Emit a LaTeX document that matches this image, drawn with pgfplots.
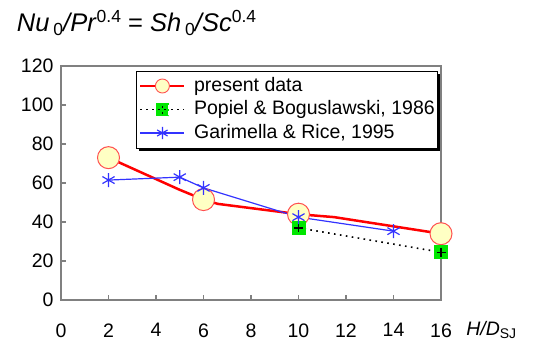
\documentclass[border=0pt]{standalone}
\usepackage{fontspec}
\setmainfont{Liberation Sans}
\usepackage{pgfplots}
\pgfplotsset{compat=1.18}
\definecolor{framegray}{RGB}{128,128,128}
\definecolor{myred}{RGB}{255,0,0}
\definecolor{circedge}{RGB}{255,80,80}
\definecolor{circfill}{RGB}{255,255,196}
\definecolor{mygreen}{RGB}{0,230,0}
\definecolor{myblue}{RGB}{51,51,255}
\newcommand{\smallnum}[1]{{\fontsize{17.5bp}{20bp}\selectfont #1}}
\begin{document}
\begin{tikzpicture}
\useasboundingbox (-61bp,-42bp) rectangle (476bp,300bp);
\begin{axis}[
  scale only axis, width=380bp, height=234bp,
  xmin=0, xmax=16, ymin=0, ymax=120,
  xtick={0,2,...,16}, ytick={0,20,...,120},
  axis line style={framegray, line width=1.4bp},
  tick style={framegray, line width=1.2bp},
  major tick length=5bp,
  tick align=inside,
  xtick pos=bottom, ytick pos=left,
  clip=false,
  /pgf/number format/assume math mode=true,
  tick label style={font=\fontsize{19.5bp}{22bp}\selectfont, text=black},
  xticklabel style={yshift=-20bp},
  yticklabel style={xshift=-4bp},
  title={\textit{Nu}\hspace{4bp}\raisebox{-4.5bp}{\smallnum{0}}\textit{/Pr}\raisebox{9bp}{\smallnum{0.4}} = \textit{Sh}\hspace{4bp}\raisebox{-4.5bp}{\smallnum{0}}\textit{/Sc}\raisebox{9bp}{\smallnum{0.4}}},
  title style={at={(axis description cs:-0.1166,1.1226)}, anchor=base west, font=\fontsize{25.5bp}{28bp}\selectfont, inner sep=0pt},
  xlabel={\textit{H/D}\raisebox{-3bp}{\fontsize{14bp}{16bp}\selectfont SJ}},
  xlabel style={at={(axis description cs:1.066,-0.1538)}, anchor=base west, font=\fontsize{19.5bp}{22bp}\selectfont, inner sep=0pt},
  legend style={at={(axis description cs:0.19737,0.81410)}, anchor=west,
    draw=none, fill=none,
    font=\fontsize{19.5bp}{22bp}\selectfont,
    inner xsep=3bp, inner ysep=0bp, row sep=3.4bp, column sep=7bp,
    nodes={inner sep=1.5bp, text height=13.6bp, text depth=3.5bp}},
  legend cell align=left,
]
\addplot[myred, line width=2.5bp, forget plot] coordinates {
  (2,73) (5,56.5) (6,51.5) (6.6,49.3) (10,44) (11.5,42.5) (16,34)
};
\addlegendimage{legend image code/.code={
  \draw[myred, line width=2.4bp] (0bp,0bp) -- (44bp,0bp);
  \draw[circedge, fill=circfill, line width=0.9bp] (22bp,0bp) circle (7bp);
}}
\addlegendentry{present data}
\addplot[only marks, mark=*, mark size=11bp, mark options={draw=circedge, fill=circfill, line width=1bp}, forget plot] coordinates {
  (2,73) (6,51.5) (10,44) (16,34)
};
\addplot[black, line width=1.6bp, dash pattern=on 1.6bp off 4.4bp, mark=square*, mark size=6.5bp, mark options={draw=mygreen, fill=mygreen, solid, line width=0.5bp},
  legend image code/.code={
    \draw[black, line width=1.5bp, dash pattern=on 1.6bp off 4.4bp] (0bp,0bp) -- (14bp,0bp);
    \draw[black, line width=1.5bp, dash pattern=on 1.6bp off 4.4bp] (31bp,0bp) -- (44bp,0bp);
    \fill[mygreen] (16bp,-6bp) rectangle (28bp,6bp);
    \draw[black, line width=1.6bp] (17.5bp,0bp) -- (26.5bp,0bp) (22bp,-4.5bp) -- (22bp,4.5bp);
  }] coordinates {
  (10,37) (16,24.5)
};
\addlegendentry{Popiel \& Boguslawski, 1986}
\addplot[only marks, mark=+, mark size=4.5bp, mark options={black, line width=1.4bp}, forget plot] coordinates {
  (10,37) (16,24.5)
};
\addplot[myblue, line width=1.2bp, mark=asterisk, mark size=7bp, mark options={line width=1.2bp},
  legend image code/.code={
    \draw[myblue, line width=1.2bp] (0bp,0bp) -- (44bp,0bp);
    \draw[myblue, line width=1.2bp] plot[mark=asterisk, mark size=6bp] coordinates {(22bp,0bp)};
  }] coordinates {
  (2,61.5) (5,63) (6,57.5) (10,42.5) (14,35.3)
};
\addlegendentry{Garimella \& Rice, 1995}
% legend frame with drop shadow
\fill[black] (axis description cs:0.2053,0.63675) rectangle (axis description cs:0.99737,0.9658);
\draw[black, fill=white, line width=1bp] (axis description cs:0.19737,0.64957) rectangle (axis description cs:0.98947,0.97863);
\end{axis}
\end{tikzpicture}
\end{document}
